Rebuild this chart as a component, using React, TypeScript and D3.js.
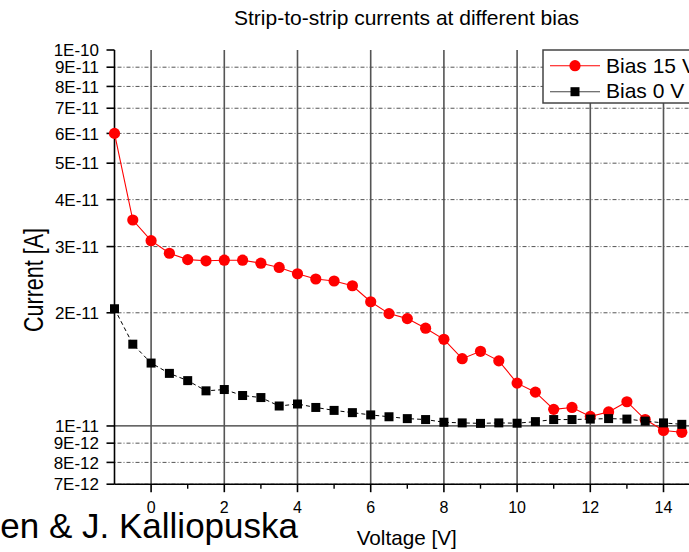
import React from "react";
import * as d3 from "d3";

const voltages = [-1, -0.5, 0, 0.5, 1, 1.5, 2, 2.5, 3, 3.5, 4, 4.5, 5, 5.5, 6, 6.5, 7, 7.5, 8, 8.5, 9, 9.5, 10, 10.5, 11, 11.5, 12, 12.5, 13, 13.5, 14, 14.5];
const bias15 = [6.0e-11, 3.53e-11, 3.11e-11, 2.88e-11, 2.77e-11, 2.75e-11, 2.76e-11, 2.76e-11, 2.71e-11, 2.64e-11, 2.54e-11, 2.46e-11, 2.43e-11, 2.36e-11, 2.14e-11, 1.99e-11, 1.93e-11, 1.82e-11, 1.70e-11, 1.51e-11, 1.58e-11, 1.49e-11, 1.30e-11, 1.23e-11, 1.107e-11, 1.12e-11, 1.06e-11, 1.09e-11, 1.16e-11, 1.04e-11, 9.73e-12, 9.62e-12];
const bias0 = [2.05e-11, 1.65e-11, 1.47e-11, 1.38e-11, 1.32e-11, 1.24e-11, 1.25e-11, 1.205e-11, 1.19e-11, 1.13e-11, 1.144e-11, 1.12e-11, 1.10e-11, 1.085e-11, 1.07e-11, 1.058e-11, 1.046e-11, 1.04e-11, 1.023e-11, 1.019e-11, 1.016e-11, 1.019e-11, 1.017e-11, 1.027e-11, 1.04e-11, 1.04e-11, 1.043e-11, 1.046e-11, 1.043e-11, 1.03e-11, 1.019e-11, 1.01e-11];

const yTickValues = [1e-10, 9e-11, 8e-11, 7e-11, 6e-11, 5e-11, 4e-11, 3e-11, 2e-11, 1e-11, 9e-12, 8e-12, 7e-12];
const yTickLabels = ["1E-10", "9E-11", "8E-11", "7E-11", "6E-11", "5E-11", "4E-11", "3E-11", "2E-11", "1E-11", "9E-12", "8E-12", "7E-12"];
const xMajorTicks = [0, 2, 4, 6, 8, 10, 12, 14];
const xMinorTicks = [1, 3, 5, 7, 9, 11, 13];
const seriesNames = ["Bias 15 V", "Bias 0 V"];

const titleText = "Strip-to-strip currents at different bias";
const xLabel = "Voltage [V]";
const yLabel = "Current [A]";
const authorText = "en & J. Kalliopuska";

const FONT = "Arial, 'Liberation Sans', Helvetica, sans-serif";

export default function App() {
  const left = 114.5;
  const right = 700.1;
  const top = 50;
  const bottom = 484.2;
  const x = d3.scaleLinear().domain([-1, 15]).range([left, right]);
  const y = d3.scaleLog().domain([7e-12, 1e-10]).range([bottom, top]);

  const line = d3
    .line<[number, number]>()
    .x((d) => x(d[0]))
    .y((d) => y(d[1]));

  const redPts: [number, number][] = voltages.map((v, i) => [v, bias15[i]]);
  const blackPts: [number, number][] = voltages.map((v, i) => [v, bias0[i]]);
  const sq = 9;

  return (
    <svg
      width={689}
      height={552}
      style={{ position: "absolute", left: 0, top: 0, background: "#fff" }}
      fontFamily={FONT}
    >
      <rect x={0} y={0} width={689} height={552} fill="#fff" />
      {/* horizontal grid */}
      {yTickValues.map((v, i) =>
        v === 1e-10 ? null : v === 1e-11 ? (
          <line key={"hg" + i} x1={left} x2={689} y1={y(v)} y2={y(v)} stroke="#333" strokeWidth={1.3} />
        ) : (
          <line key={"hg" + i} x1={left} x2={689} y1={y(v)} y2={y(v)} stroke="#555" strokeWidth={1} strokeDasharray="1,2,4,2" />
        )
      )}
      {/* vertical grid */}
      {xMajorTicks.map((v) => (
        <line key={"vg" + v} x1={x(v)} x2={x(v)} y1={top} y2={bottom} stroke="#555" strokeWidth={1.6} />
      ))}
      {/* axes */}
      <line x1={left} x2={left} y1={top} y2={bottom} stroke="#000" strokeWidth={1.6} />
      <line x1={left} x2={689} y1={bottom} y2={bottom} stroke="#000" strokeWidth={1.6} />
      {yTickValues.map((v, i) => (
        <g key={"yt" + i}>
          <line x1={left - 8} x2={left} y1={y(v)} y2={y(v)} stroke="#000" strokeWidth={1.6} />
          <text x={99} y={y(v)} dy="0.36em" textAnchor="end" fontSize={17} fill="#000">
            {yTickLabels[i]}
          </text>
        </g>
      ))}
      {xMajorTicks.map((v) => (
        <g key={"xt" + v}>
          <line x1={x(v)} x2={x(v)} y1={bottom} y2={bottom + 8} stroke="#000" strokeWidth={1.6} />
          <text x={x(v)} y={512.5} textAnchor="middle" fontSize={16} fill="#000">
            {v}
          </text>
        </g>
      ))}
      {xMinorTicks.map((v) => (
        <line key={"xm" + v} x1={x(v)} x2={x(v)} y1={bottom} y2={bottom + 4.5} stroke="#000" strokeWidth={1.4} />
      ))}

      {/* series */}
      <path d={line(redPts) || ""} fill="none" stroke="#ff0000" strokeWidth={1.1} />
      {redPts.map((d, i) => (
        <circle key={"r" + i} cx={x(d[0])} cy={y(d[1])} r={5.6} fill="#ff0000" />
      ))}
      <path d={line(blackPts) || ""} fill="none" stroke="#000" strokeWidth={1} strokeDasharray="4,3" />
      {blackPts.map((d, i) => (
        <rect key={"b" + i} x={x(d[0]) - sq / 2} y={y(d[1]) - sq / 2} width={sq} height={sq} fill="#000" />
      ))}

      {/* legend */}
      <rect x={543} y={50} width={170} height={53} fill="#fff" stroke="#444" strokeWidth={1.5} />
      <line x1={550} x2={600} y1={65.7} y2={65.7} stroke="#ff0000" strokeWidth={1.1} />
      <circle cx={575} cy={65.7} r={5.6} fill="#ff0000" />
      <text x={606} y={73.3} fontSize={21} fill="#000">{seriesNames[0]}</text>
      <line x1={550} x2={600} y1={91.7} y2={91.7} stroke="#444" strokeWidth={1.1} />
      <rect x={575 - sq / 2} y={91.7 - sq / 2} width={sq} height={sq} fill="#000" />
      <text x={606} y={98.3} fontSize={21} fill="#000">{seriesNames[1]}</text>

      {/* titles */}
      <text x={234} y={25} fontSize={21} fill="#000">{titleText}</text>
      <text x={356.7} y={545} fontSize={20.7} fill="#000">{xLabel}</text>
      <text
        transform={`translate(42.5,280) rotate(-90)`}
        textAnchor="middle"
        fontSize={27}
        textLength={104}
        lengthAdjust="spacingAndGlyphs"
        fill="#000"
      >
        {yLabel}
      </text>
      <text x={298} y={538.3} textAnchor="end" fontSize={35} fill="#000">{authorText}</text>
    </svg>
  );
}
